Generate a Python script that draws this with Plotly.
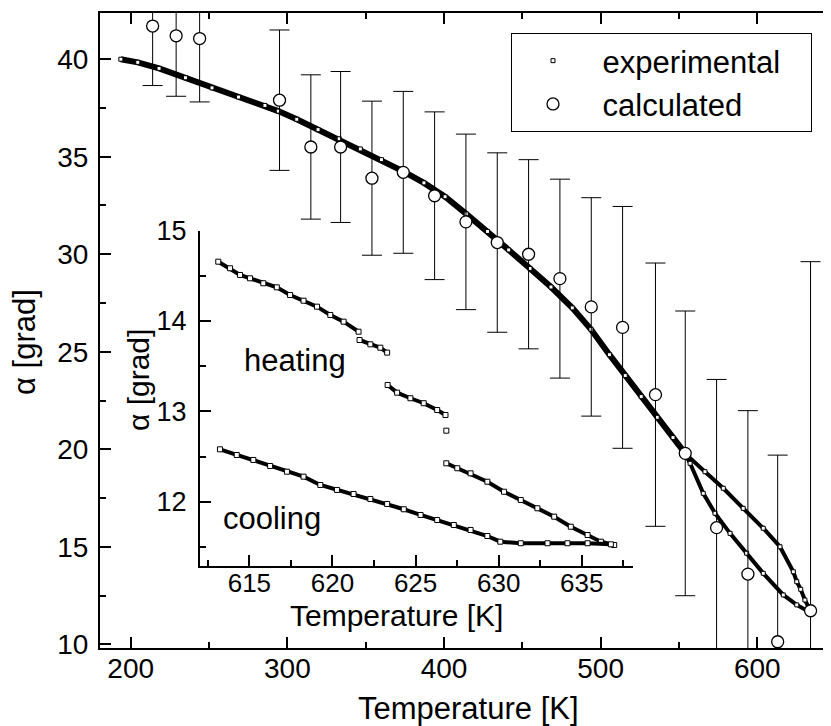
import plotly.graph_objects as go

# main plot: experimental curve
exp_T = [193.7, 204.5, 218.1, 235.0, 251.9, 268.8, 285.7, 294.2, 306.0, 319.6, 333.1, 346.6, 360.1,
         373.7, 387.2, 400.7, 414.2, 427.8, 441.3, 454.9, 468.3, 481.9, 493.8, 505.6, 515.7, 525.9,
         536.1, 546.2, 553.0]
exp_a = [40.0, 39.84, 39.53, 39.05, 38.53, 38.06, 37.63, 37.34, 36.92, 36.39, 35.92, 35.4, 34.85,
         34.26, 33.66, 32.95, 32.07, 31.17, 30.22, 29.27, 28.32, 27.25, 26.15, 24.85, 23.78, 22.7,
         21.64, 20.6, 19.89]
# hysteresis loop above ~555 K
up_T = [553.0, 554.9, 566.6, 578.3, 591.0, 603.8, 614.5, 623.0, 625.2, 627.7, 630.4, 634.7]
up_a = [19.89, 19.71, 18.85, 18.0, 16.97, 15.95, 15.0, 13.72, 13.21, 12.82, 12.27, 11.59]
low_T = [553.0, 557.1, 565.5, 573.0, 582.6, 593.2, 603.8, 616.6, 625.2, 634.7]
low_a = [19.89, 19.28, 17.74, 16.72, 15.69, 14.67, 13.64, 12.53, 12.02, 11.59]

# calculated points with error bars
calc_T = [214, 229, 244, 295, 315, 334, 354, 374, 394, 414, 434, 454, 474, 494, 514, 535, 554,
          574, 594, 613, 634]
calc_a = [41.7, 41.2, 41.06, 37.9, 35.5, 35.5, 33.9, 34.2, 33.0, 31.66, 30.6, 30.0, 28.75, 27.3,
          26.25, 22.8, 19.79, 15.98, 13.6, 10.13, 11.72]
calc_err = [3.05, 3.1, 3.25, 3.6, 3.7, 3.87, 3.95, 4.15, 4.3, 4.5, 4.6, 4.85, 5.1, 5.6, 6.2, 6.75,
            7.3, 7.6, 8.38, 9.57, 17.9]

# inset: heating (4 pieces + one stray point) and cooling
h1_T = [613.13, 613.84, 614.44, 615.04, 615.84, 616.65, 617.45, 618.26, 619.07, 619.87, 620.67, 621.57]
h1_a = [14.657, 14.584, 14.51, 14.473, 14.418, 14.373, 14.288, 14.225, 14.159, 14.067, 13.993, 13.882]
h2_T = [621.63, 622.28, 622.88, 623.29]
h2_a = [13.79, 13.742, 13.705, 13.65]
h3_T = [623.32, 623.89, 624.69, 625.49, 626.3, 626.8]
h3_a = [13.292, 13.207, 13.145, 13.09, 13.015, 12.96]
h_odd_T = [626.85]
h_odd_a = [12.786]
h4_T = [626.85, 627.51, 628.31, 629.32, 630.32, 631.33, 632.33, 633.34, 634.34, 635.35, 636.15, 636.95]
h4_a = [12.425, 12.37, 12.314, 12.221, 12.11, 12.019, 11.927, 11.834, 11.723, 11.631, 11.557, 11.52]
c_T = [613.23, 614.24, 615.24, 616.25, 617.26, 618.26, 619.27, 620.27, 621.27, 622.28, 623.29,
       624.29, 625.3, 626.3, 627.3, 628.31, 629.32, 630.1, 631.33, 632.94, 634.14, 635.35, 636.75]
c_a = [12.58, 12.517, 12.462, 12.395, 12.332, 12.277, 12.185, 12.13, 12.085, 12.03, 11.975,
       11.916, 11.853, 11.797, 11.742, 11.687, 11.62, 11.557, 11.54, 11.54, 11.54, 11.54, 11.528]

W, H = 831, 726
OFF = 8  # page body margin shifts the figure by this much
# plot area in screen pixels: x 100..831, y 13..648
X0, X1, Y0, Y1 = 100, 831, 13, 648
pw, ph = X1 - X0, Y1 - Y0


def px(x, y):
    return (x - X0) / pw, (Y1 - y) / ph


FONT = "Liberation Sans, Arial, sans-serif"
sq = dict(symbol="square", size=5, color="white", line=dict(width=1, color="black"))

fig = go.Figure()

fig.add_trace(go.Scatter(x=exp_T, y=exp_a, mode="lines", line=dict(color="black", width=6),
                         showlegend=False, hoverinfo="skip"))
fig.add_trace(go.Scatter(x=up_T, y=up_a, mode="lines", line=dict(color="black", width=4),
                         showlegend=False, hoverinfo="skip"))
fig.add_trace(go.Scatter(x=low_T, y=low_a, mode="lines", line=dict(color="black", width=4),
                         showlegend=False, hoverinfo="skip"))
fig.add_trace(go.Scatter(x=exp_T + up_T + low_T, y=exp_a + up_a + low_a, mode="markers",
                         marker=dict(symbol="square", size=4, color="white",
                                     line=dict(width=1, color="black")),
                         name="\u00a0experimental\u00a0\u00a0\u00a0"))
fig.add_trace(go.Scatter(x=calc_T, y=calc_a, mode="markers", name="\u00a0calculated",
                         marker=dict(symbol="circle", size=12, color="white",
                                     line=dict(color="black", width=1.3)),
                         error_y=dict(type="data", array=calc_err, color="black",
                                      thickness=1, width=10)))

# inset
for xs, ys in [(h1_T, h1_a), (h2_T, h2_a), (h3_T, h3_a), (h4_T, h4_a), (c_T, c_a)]:
    fig.add_trace(go.Scatter(x=xs, y=ys, mode="lines+markers", xaxis="x3", yaxis="y3",
                             line=dict(color="black", width=4), marker=sq,
                             showlegend=False, hoverinfo="skip"))
fig.add_trace(go.Scatter(x=h_odd_T, y=h_odd_a, mode="markers", xaxis="x3", yaxis="y3",
                         marker=sq, showlegend=False, hoverinfo="skip"))

ax = dict(showline=True, linecolor="black", linewidth=2, ticks="inside", ticklen=11,
          tickwidth=2, tickcolor="black", showgrid=False, zeroline=False)

ix0, iy1 = px(200, 230.7)
ix1, iy0 = px(633.3, 566)

fig.update_layout(
    width=W, height=H,
    margin=dict(l=X0 - OFF, r=W - X1 + OFF, t=Y0 - OFF, b=H - Y1 + OFF, autoexpand=False),
    paper_bgcolor="white", plot_bgcolor="rgba(0,0,0,0)",
    font=dict(family=FONT, color="black", size=28),
    xaxis=dict(ax, range=[180.4, 647.05], dtick=100, mirror="ticks", anchor="y",
               minor=dict(ticks="inside", ticklen=6, tickwidth=1.5, dtick=50),
               ticklabelstandoff=-6),
    yaxis=dict(ax, range=[9.81, 42.37], dtick=5, anchor="x",
               minor=dict(ticks="inside", ticklen=6, tickwidth=1.5, dtick=2.5),
               ticklabelstandoff=4),
    yaxis2=dict(overlaying="y", side="right", matches="y", anchor="x", showline=False,
                ticks="inside", ticklen=5, tickwidth=2, tickcolor="black", dtick=5,
                showticklabels=False, showgrid=False, zeroline=False),
    xaxis3=dict(ax, domain=[ix0, ix1], anchor="y3", range=[612.03, 638.1], dtick=5,
                minor=dict(ticks="inside", ticklen=6, tickwidth=1.5, dtick=2.5),
                ticklabelstandoff=-7, tickfont=dict(size=26)),
    yaxis3=dict(ax, domain=[iy0, iy1], anchor="x3", range=[11.288, 15.0], dtick=1,
                minor=dict(ticks="inside", ticklen=6, tickwidth=1.5, dtick=0.5),
                ticklabelstandoff=6, tickfont=dict(size=27)),
    legend=dict(x=px(511, 0)[0], y=px(0, 33)[1], xanchor="left", yanchor="top",
                bordercolor="black", borderwidth=1, bgcolor="white",
                font=dict(size=31), itemwidth=72, tracegroupgap=0),
)

notes = [
    ("Temperature [K]", 468, 708, 0, 31),
    ("α [grad]", 25, 342, -90, 31),
    ("Temperature [K]", 396, 615, 0, 30),
    ("α [grad]", 139, 380, -90, 30),
    ("heating", 295, 360, 0, 31),
    ("cooling", 272, 518, 0, 31),
]
for txt, x, y, ang, sz in notes:
    xp, yp = px(x, y)
    fig.add_annotation(text=txt, x=xp, y=yp, xref="paper", yref="paper", showarrow=False,
                       textangle=ang, xanchor="center", yanchor="middle", font=dict(size=sz))

fig.write_html("out.html")
